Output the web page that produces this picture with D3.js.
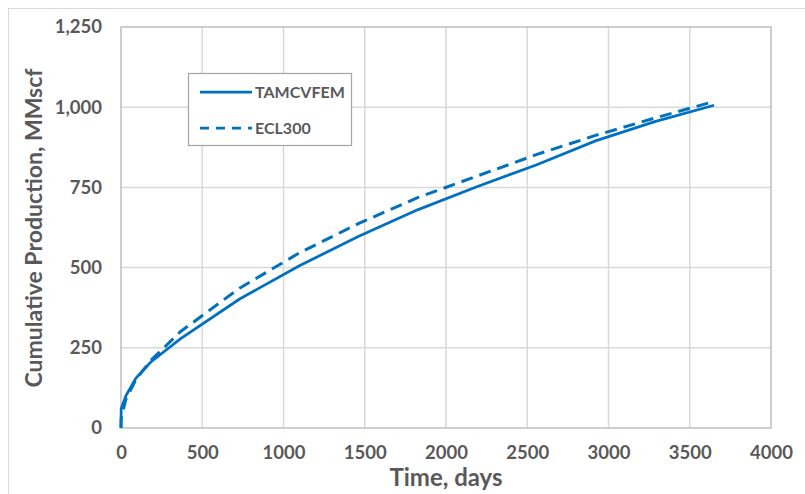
<!DOCTYPE html>
<html>
<head>
<meta charset="utf-8">
<script src="https://cdn.jsdelivr.net/npm/d3@7"></script>
<style>
  body { margin: 0; background: #fff; }
  text { font-family: Lato, "Open Sans", sans-serif; font-weight: bold; fill: #595959; }
</style>
</head>
<body>
<div id="chart"></div>
<script>
// time in days and cumulative gas in MMscf
var days = [0, 1, 30, 91, 182, 365, 730, 1095, 1460, 1825, 2190, 2555, 2920, 3285, 3650];
var tamcvfem = [0, 60, 100, 155, 205, 278, 402, 505, 597, 680, 752, 820, 895, 955, 1006];
var ecl300 = [0, 30, 90, 150, 210, 300, 436, 545, 637, 718, 785, 852, 912, 966, 1018];

var xTicks = [0, 500, 1000, 1500, 2000, 2500, 3000, 3500, 4000];
var yTicks = [0, 250, 500, 750, 1000, 1250];

var seriesNames = ["TAMCVFEM", "ECL300"];

var W = 805, H = 494;
var margin = {top: 27, right: 34, bottom: 66, left: 121},
    width = 771 - margin.left,
    height = 428 - margin.top;

var blue = "#0070c0";

var svg = d3.select("#chart").append("svg")
    .attr("width", W)
    .attr("height", H);

// outer chart frame
svg.append("rect")
    .attr("x", 8.5).attr("y", 8.5)
    .attr("width", W).attr("height", H)
    .attr("fill", "none")
    .attr("stroke", "#d9d9d9");

var g = svg.append("g")
    .attr("transform", "translate(" + margin.left + "," + margin.top + ")");

var x = d3.scaleLinear().domain([0, 4000]).range([0, width]);
var y = d3.scaleLinear().domain([0, 1250]).range([height, 0]);

// gridlines
g.selectAll(".hgrid").data(yTicks.slice(1, -1)).enter().append("line")
    .attr("x1", 0).attr("x2", width)
    .attr("y1", function(d) { return y(d); })
    .attr("y2", function(d) { return y(d); })
    .attr("stroke", "#d9d9d9").attr("stroke-width", 1.5);

g.selectAll(".vgrid").data(xTicks.slice(1, -1)).enter().append("line")
    .attr("y1", 0).attr("y2", height)
    .attr("x1", function(d) { return x(d); })
    .attr("x2", function(d) { return x(d); })
    .attr("stroke", "#d9d9d9").attr("stroke-width", 1.5);

// plot frame
g.append("rect")
    .attr("width", width).attr("height", height)
    .attr("fill", "none")
    .attr("stroke", "#bfbfbf").attr("stroke-width", 1.5);

// axes
var xAxis = g.append("g")
    .attr("transform", "translate(0," + height + ")")
    .call(d3.axisBottom(x).tickValues(xTicks).tickSize(0).tickPadding(18).tickFormat(d3.format("d")));
var yAxis = g.append("g")
    .call(d3.axisLeft(y).tickValues(yTicks).tickSize(0).tickPadding(19).tickFormat(d3.format(",")));

[xAxis, yAxis].forEach(function(a) {
    a.select(".domain").remove();
    a.selectAll("text").style("font-size", "18.5px").attr("fill", "#595959");
});

// lines
var line = d3.line()
    .x(function(d) { return x(d[0]); })
    .y(function(d) { return y(d[1]); });

g.append("path")
    .datum(d3.zip(days, tamcvfem))
    .attr("d", line)
    .attr("fill", "none")
    .attr("stroke", blue)
    .attr("stroke-width", 2.75);

g.append("path")
    .datum(d3.zip(days, ecl300))
    .attr("d", line)
    .attr("fill", "none")
    .attr("stroke", blue)
    .attr("stroke-width", 3)
    .attr("stroke-dasharray", "12,7");

// axis titles
svg.append("text")
    .attr("x", 446).attr("y", 486)
    .attr("text-anchor", "middle")
    .style("font-size", "24px")
    .text("Time, days");

svg.append("text")
    .attr("transform", "translate(42,228) rotate(-90)")
    .attr("text-anchor", "middle")
    .style("font-size", "23px")
    .text("Cumulative Production, MMscf");

// legend
var legend = svg.append("g");
legend.append("rect")
    .attr("x", 188.5).attr("y", 73.5)
    .attr("width", 163).attr("height", 72)
    .attr("fill", "#fff")
    .attr("stroke", "#a6a6a6").attr("stroke-width", 1.25);

seriesNames.forEach(function(name, i) {
    var ly = 92 + i * 36;
    legend.append("line")
        .attr("x1", 200).attr("x2", 252)
        .attr("y1", ly).attr("y2", ly)
        .attr("stroke", blue)
        .attr("stroke-width", 2.75)
        .attr("stroke-dasharray", i === 1 ? "9,7" : null);
    legend.append("text")
        .attr("x", 255).attr("y", ly)
        .attr("dy", "0.35em")
        .style("font-size", "16px")
        .text(name);
});
</script>
</body>
</html>
